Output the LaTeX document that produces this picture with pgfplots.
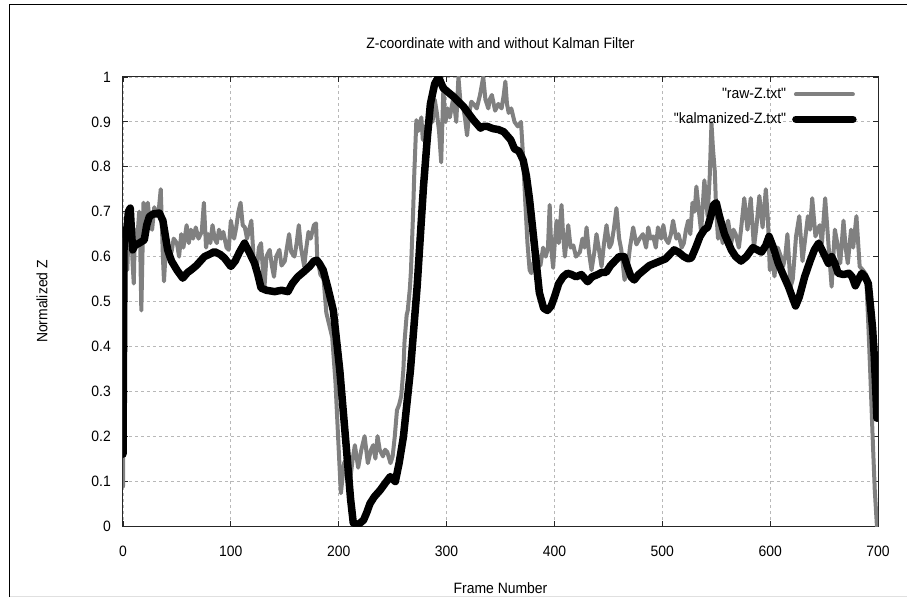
\documentclass[border=0pt]{standalone}
\usepackage{fontspec}
\setmainfont{Liberation Sans}[FakeStretch=0.93]
\newfontfamily\plainfont{Liberation Sans}[FakeStretch=0.93]
\usepackage{pgfplots}
\pgfplotsset{compat=1.18}

\begin{document}
\plainfont\fontsize{15}{17}\selectfont
\begin{tikzpicture}
% page = 907 x 597 px, 1pt = 1px, plot box corner at (0,0)
\useasboundingbox (-123pt,-71pt) rectangle (784pt,526pt);
\draw[black, line width=1pt] (-113pt,-71pt) -- (-113pt,521pt) -- (784pt,521pt);
\draw[black!12, line width=1pt] (-113pt,-70pt) -- (784pt,-70pt);

\begin{axis}[
    at={(0,0)}, anchor=south west,
    scale only axis,
    width=755pt, height=449pt,
    xmin=0, xmax=700,
    ymin=0, ymax=1,
    xtick={0,100,...,700},
    ytick={0,0.1,...,1},
    yticklabels={0,0.1,0.2,0.3,0.4,0.5,0.6,0.7,0.8,0.9,1},
    /pgf/number format/assume math mode=true,
    tick align=inside,
    major tick length=5pt,
    every tick/.style={black!85, line width=0.8pt},
    axis line style={black!85, line width=1pt},
    grid=major,
    major grid style={black!28, dash pattern=on 3pt off 3pt, line width=0.8pt},
    xticklabel style={yshift=-15pt},
    yticklabel style={xshift=-7pt},
    title={Z-coordinate with and without Kalman Filter},
    title style={at={(axis description cs:0.5,1.062)}, anchor=center},
    xlabel={Frame Number},
    xlabel style={at={(axis description cs:0.5,-0.138)}, anchor=center},
    ylabel={Normalized Z},
    ylabel style={at={(axis description cs:-0.1073,0.5)}, anchor=center},
    legend style={draw=none, fill=none, at={(rel axis cs:0.972,0.98)},
        anchor=north east, inner sep=0pt, row sep=8pt, column sep=4pt},
    legend cell align=right,
    legend plot pos=right,
    legend image code/.code={\draw[#1] (0pt,0pt) -- (57pt,0pt);},
]
\addplot[color=black!50, line width=4pt, line join=round, line cap=round] coordinates {
(0,0.088) (1,0.64) (2,0.60) (3,0.67) (4,0.57) (5,0.65) (7,0.70) (9,0.58)
(10,0.54) (11,0.66) (13,0.63) (15,0.70) (16,0.62) (17,0.48) (18,0.60) (19,0.72)
(21,0.66) (23,0.72) (25,0.67) (27,0.66) (29,0.71) (31,0.69) (33,0.70) (35,0.75)
(37,0.60) (38,0.545) (40,0.63) (42,0.62) (45,0.61) (47,0.64) (50,0.63) (52,0.60)
(54,0.65) (56,0.62) (59,0.67) (61,0.63) (63,0.66) (65,0.64) (67.5,0.665) (70,0.64)
(73,0.655) (75,0.72) (77,0.62) (79,0.65) (81,0.63) (83,0.67) (85,0.64) (87,0.63)
(89,0.66) (91,0.64) (93,0.655) (96,0.62) (98,0.615) (100,0.68) (103,0.64) (105,0.665)
(107,0.70) (109,0.72) (111,0.67) (113,0.665) (115,0.64) (117,0.66) (119,0.68) (121,0.60)
(124,0.57) (126,0.62) (128,0.63) (131,0.525) (133,0.60) (136,0.615) (138,0.58) (140,0.555)
(142,0.60) (145,0.615) (147,0.58) (150,0.59) (152,0.62) (154,0.65) (156,0.61) (159,0.60)
(161,0.63) (163,0.67) (165,0.62) (168,0.578) (170,0.62) (172,0.655) (174,0.64) (177,0.67)
(179,0.674) (180,0.60) (183,0.56) (186,0.55) (188.5,0.475) (191,0.45) (194,0.42) (197,0.32)
(200,0.17) (202,0.073) (205,0.14) (207,0.15) (210,0.09) (213,0.15) (215,0.18) (218,0.13)
(221,0.17) (224,0.20) (227,0.14) (230,0.17) (232,0.18) (234,0.15) (236,0.20) (238,0.17)
(241,0.155) (243,0.17) (245,0.165) (248,0.14) (250,0.155) (252,0.20) (254,0.258) (256,0.27)
(258,0.29) (260,0.35) (261,0.41) (263,0.47) (264,0.48) (266,0.53) (267,0.57) (269,0.70)
(270,0.78) (272,0.904) (274,0.88) (276.6,0.91) (278,0.86) (280,0.89) (282,0.87) (285,0.93)
(287,0.90) (289,0.95) (291,0.92) (293,0.88) (295,0.81) (297,0.97) (299,0.90) (301,0.93)
(303,0.91) (306,0.95) (308,0.92) (309,0.90) (311,1.0) (313,0.94) (315.6,0.93) (317,0.91)
(319,0.87) (321,0.92) (323,0.945) (325,0.94) (328,0.93) (331,0.96) (334,1.0) (336,0.95)
(338.7,0.93) (340,0.95) (342,0.96) (345,0.925) (348,0.94) (351,0.93) (353,0.96) (354.5,0.99)
(356,0.94) (357.6,0.92) (360,0.93) (363,0.90) (366,0.89) (369,0.90) (371,0.82) (373,0.72)
(375,0.63) (377,0.57) (378.6,0.563) (381,0.59) (383,0.61) (385,0.60) (387,0.58) (389.5,0.62)
(392,0.60) (394,0.62) (395.6,0.715) (397,0.62) (398.8,0.575) (400,0.62) (402,0.68) (404,0.63)
(406.6,0.715) (408,0.65) (409.7,0.60) (411,0.63) (412.8,0.67) (415,0.62) (417.5,0.625) (420,0.60)
(423.6,0.61) (426,0.64) (428,0.62) (429.8,0.665) (432,0.61) (434.4,0.57) (437,0.61) (439,0.65)
(441,0.62) (443.7,0.578) (446,0.63) (448.3,0.67) (451,0.62) (453,0.63) (455,0.66) (457.5,0.708)
(460,0.64) (462,0.615) (465,0.548) (468,0.578) (470,0.62) (473,0.665) (476,0.627) (479,0.64)
(482,0.65) (485,0.62) (487,0.665) (489,0.64) (491.6,0.645) (494,0.62) (496,0.665) (499,0.64)
(501,0.67) (503,0.64) (505.6,0.63) (508,0.65) (510,0.68) (513,0.64) (515,0.65) (518,0.62)
(520,0.63) (522,0.66) (524,0.68) (526,0.65) (528,0.72) (530,0.70) (531.6,0.756) (534,0.70)
(536,0.655) (539,0.77) (541,0.72) (542,0.69) (544,0.78) (545.6,0.897) (547,0.84) (548.7,0.79)
(550,0.70) (551.7,0.64) (554,0.66) (556,0.63) (558,0.65) (561,0.68) (564,0.63) (566,0.66)
(568,0.65) (571,0.62) (573,0.66) (576,0.73) (579,0.66) (582,0.73) (585,0.62) (587,0.66)
(590,0.735) (593,0.665) (596,0.75) (598,0.68) (599.7,0.57) (602,0.60) (604,0.556) (607,0.62)
(610,0.60) (612,0.578) (614,0.60) (616,0.65) (619,0.533) (621,0.55) (624,0.645) (627,0.69)
(630,0.59) (632,0.63) (635,0.69) (637,0.66) (639,0.73) (642,0.645) (644,0.66) (646,0.67)
(648,0.63) (651,0.73) (654,0.63) (657,0.533) (660,0.66) (663,0.62) (665,0.585) (668,0.68)
(670,0.62) (672,0.585) (675,0.66) (677,0.62) (680,0.69) (683,0.578) (686,0.57) (689,0.56)
(691,0.45) (693,0.33) (695,0.20) (697,0.08) (699,0.0)
};
\addlegendentry{"raw-Z.txt"}
\addplot[color=black, line width=7.5pt, line join=round, line cap=round] coordinates {
(0,0.16) (1,0.65) (2,0.66) (3,0.64) (5,0.70) (6.7,0.708) (8,0.65) (9,0.615)
(11,0.625) (15,0.63) (19.7,0.637) (22,0.67) (24.4,0.689) (28,0.695) (33.7,0.697) (37,0.68)
(41.4,0.615) (45,0.59) (50,0.57) (55.4,0.552) (60,0.565) (63,0.57) (68,0.58) (75.5,0.60)
(80,0.605) (84.8,0.611) (90,0.605) (94,0.597) (100,0.578) (104,0.59) (108,0.61) (112.7,0.63)
(117,0.61) (122,0.585) (125,0.56) (128,0.53) (133,0.525) (140.6,0.522) (147,0.525) (153,0.522)
(157,0.54) (162,0.555) (167,0.565) (173,0.578) (177,0.59) (179.7,0.592) (182,0.585) (185.6,0.57)
(190,0.53) (195,0.48) (201,0.347) (207.5,0.162) (211,0.06) (213.5,0.007) (218,0.003) (223,0.013)
(226,0.03) (229,0.05) (233,0.065) (238.5,0.08) (243,0.095) (247.8,0.11) (252.5,0.099) (256,0.14)
(260,0.199) (266.5,0.347) (272.7,0.533) (278.6,0.756) (282,0.86) (285,0.94) (289,0.985) (292.5,1.0)
(297,0.975) (302,0.965) (306.5,0.956) (311,0.945) (315.7,0.934) (320,0.92) (325,0.904) (331.5,0.886)
(334,0.89) (337.7,0.89) (343,0.885) (348,0.883) (353,0.878) (359.5,0.86) (363,0.84) (367,0.835)
(371,0.815) (374,0.78) (377,0.726) (381.7,0.62) (386,0.52) (390,0.485) (393.5,0.48) (397,0.49)
(400,0.51) (404,0.54) (408,0.555) (412,0.563) (416,0.56) (420,0.555) (425,0.56) (430.8,0.544)
(435,0.555) (440,0.56) (444,0.565) (448,0.565) (452,0.58) (456,0.59) (460,0.60) (464.6,0.60)
(468,0.575) (471,0.555) (474,0.548) (478,0.56) (483,0.57) (488,0.58) (493,0.585) (498,0.59)
(503,0.595) (507,0.605) (511,0.615) (515,0.61) (520,0.60) (524,0.595) (527,0.597) (531,0.62)
(535,0.645) (539,0.66) (542,0.665) (545,0.69) (547.5,0.715) (550,0.72) (553,0.69) (557.7,0.65)
(564,0.615) (568,0.60) (573,0.59) (578,0.60) (584,0.62) (588,0.615) (592,0.61) (596,0.625)
(599,0.645) (603,0.62) (607.5,0.585) (612,0.56) (617,0.533) (620.5,0.51) (623.6,0.49) (627,0.51)
(632,0.555) (637,0.59) (641,0.615) (645,0.63) (649,0.61) (654,0.585) (657,0.60) (660,0.585)
(663,0.563) (668,0.56) (673,0.563) (676,0.555) (679,0.535) (682,0.55) (685,0.563) (688,0.555)
(691,0.54) (693,0.49) (695,0.44) (696.5,0.38) (698,0.30) (699,0.24)
};
\addlegendentry{"kalmanized-Z.txt"}
\end{axis}
\end{tikzpicture}
\end{document}
